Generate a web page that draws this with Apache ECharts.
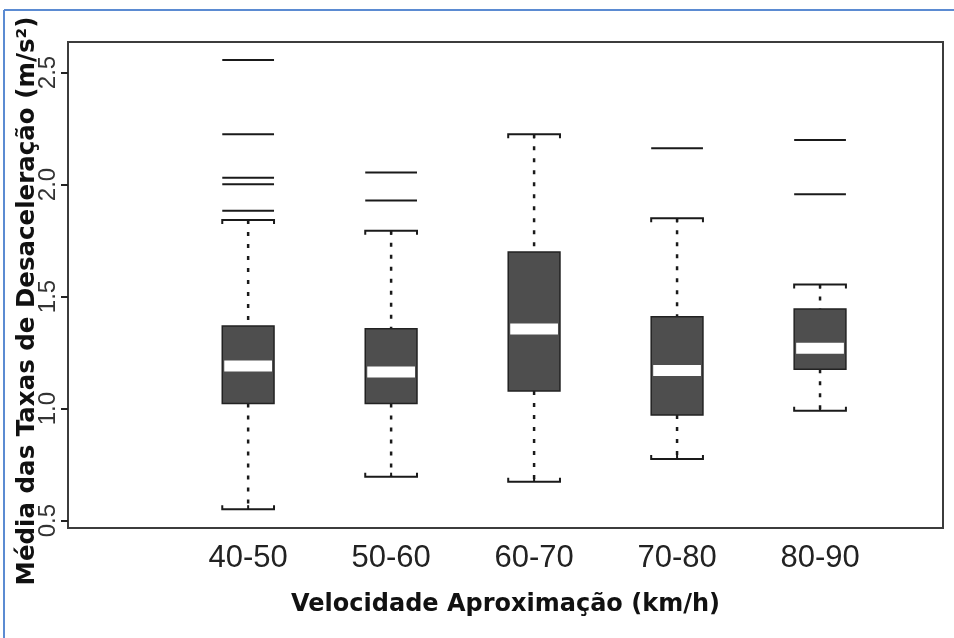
<!DOCTYPE html>
<html>
<head>
<meta charset="utf-8">
<script src="https://cdn.jsdelivr.net/npm/echarts@6/dist/echarts.min.js"></script>
<style>
  html, body { margin: 0; padding: 0; background: #fff; }
  #chart { width: 954px; height: 638px; }
</style>
</head>
<body>
<div id="chart"></div>
<script>
// Approach-speed classes and the five-number summary of each class
const categories = ['40-50', '50-60', '60-70', '70-80', '80-90'];
const lowerWhisker = [0.551, 0.696, 0.673, 0.775, 0.990];
const q1 = [1.023, 1.023, 1.078, 0.971, 1.176];
const median = [1.190, 1.163, 1.355, 1.170, 1.269];
const q3 = [1.368, 1.356, 1.699, 1.410, 1.444];
const upperWhisker = [1.842, 1.794, 2.224, 1.849, 1.554];
// Points beyond the whiskers, per class
const outliers = [
  [2.556, 2.224, 2.030, 2.001, 1.883],
  [2.054, 1.929],
  [],
  [2.162],
  [2.199, 1.956]
];
const yTicks = [0.5, 1.0, 1.5, 2.0, 2.5];
const xTicks = [1, 2, 3, 4, 5];

const FONT = "'Liberation Sans', Arial, Helvetica, sans-serif";
const TITLE_FONT = "'DejaVu Sans', 'Liberation Sans', Arial, sans-serif";
const BOX_HALF = 0.181;   // half box width, in x-axis units
const INK = '#1a1a1a';

const boxData = categories.map((c, i) =>
  [i + 1, lowerWhisker[i], q1[i], median[i], q3[i], upperWhisker[i]]);
const outlierData = [];
outliers.forEach((list, i) => list.forEach(v => outlierData.push([i + 1, v])));

function renderBox(params, api) {
  const x = api.value(0);
  const left = api.coord([x - BOX_HALF, 0])[0];
  const right = api.coord([x + BOX_HALF, 0])[0];
  const xc = api.coord([x, 0])[0];
  const yLo = api.coord([x, api.value(1)])[1];
  const yQ1 = api.coord([x, api.value(2)])[1];
  const yMed = api.coord([x, api.value(3)])[1];
  const yQ3 = api.coord([x, api.value(4)])[1];
  const yHi = api.coord([x, api.value(5)])[1];
  const whisker = { stroke: INK, lineWidth: 2.5, lineDash: [4, 8], fill: null };
  const cap = { stroke: INK, lineWidth: 2, fill: null };
  return {
    type: 'group',
    children: [
      { type: 'line', shape: { x1: xc, y1: yHi, x2: xc, y2: yQ3 }, style: whisker },
      { type: 'line', shape: { x1: xc, y1: yQ1, x2: xc, y2: yLo }, style: whisker },
      { type: 'polyline', shape: { points: [[left, yHi + 4], [left, yHi], [right, yHi], [right, yHi + 4]] }, style: cap },
      { type: 'line', shape: { x1: xc, y1: yHi, x2: xc, y2: yHi + 4 }, style: cap },
      { type: 'polyline', shape: { points: [[left, yLo - 4], [left, yLo], [right, yLo], [right, yLo - 4]] }, style: cap },
      { type: 'line', shape: { x1: xc, y1: yLo, x2: xc, y2: yLo - 4 }, style: cap },
      { type: 'rect', shape: { x: left, y: yQ3, width: right - left, height: yQ1 - yQ3 },
        style: { fill: '#4e4e4e', stroke: '#222', lineWidth: 1.5 } },
      { type: 'rect', shape: { x: left + 2, y: yMed - 5.5, width: right - left - 4, height: 11 },
        style: { fill: '#ffffff' } }
    ]
  };
}

function renderOutlier(params, api) {
  const x = api.value(0);
  const y = api.coord([x, api.value(1)])[1];
  const left = api.coord([x - BOX_HALF, 0])[0];
  const right = api.coord([x + BOX_HALF, 0])[0];
  return {
    type: 'line',
    shape: { x1: left, y1: y, x2: right, y2: y },
    style: { stroke: INK, lineWidth: 2 }
  };
}

const chart = echarts.init(document.getElementById('chart'), null, { renderer: 'canvas' });
chart.setOption({
  backgroundColor: '#ffffff',
  animation: false,
  grid: {
    left: 68, top: 42, width: 875, height: 486,
    outerBoundsMode: 'none', containLabel: false,
    show: true, borderColor: '#3c3c3c', borderWidth: 2, backgroundColor: 'transparent'
  },
  xAxis: {
    type: 'value',
    min: -0.26, max: 5.86,
    axisLine: { show: false, onZero: false },
    axisTick: { show: false },
    splitLine: { show: false },
    axisLabel: {
      customValues: xTicks,
      formatter: v => categories[Math.round(v) - 1] || '',
      fontFamily: FONT, fontSize: 31, color: '#222', margin: 15
    },
    name: 'Velocidade Aproximação (km/h)',
    nameLocation: 'middle',
    nameGap: 65,
    nameMoveOverlap: false,
    nameTextStyle: { fontFamily: TITLE_FONT, fontSize: 24, fontWeight: 'bold', color: '#111' }
  },
  yAxis: {
    type: 'value',
    min: 0.467, max: 2.636,
    axisLine: { show: true, onZero: false, lineStyle: { color: '#3c3c3c', width: 2 } },
    splitLine: { show: false },
    axisTick: { show: true, customValues: yTicks, length: 7, lineStyle: { color: '#222', width: 2 } },
    axisLabel: {
      customValues: yTicks,
      formatter: v => v.toFixed(1),
      rotate: 90,
      fontFamily: FONT, fontSize: 24, color: '#333', margin: 8
    },
    name: 'Média das Taxas de Desaceleração (m/s²)',
    nameLocation: 'middle',
    nameRotate: 90,
    nameGap: 28,
    nameMoveOverlap: false,
    nameTextStyle: { fontFamily: TITLE_FONT, fontSize: 24.5, fontWeight: 'bold', color: '#111', padding: [0, 32, 0, 0] }
  },
  series: [
    { type: 'custom', name: 'box', renderItem: renderBox, data: boxData,
      encode: { x: 0, y: [1, 2, 3, 4, 5] }, clip: false },
    { type: 'custom', name: 'outlier', renderItem: renderOutlier, data: outlierData,
      encode: { x: 0, y: 1 }, clip: false }
  ],
  graphic: [
    { type: 'line', shape: { x1: 4, y1: 10, x2: 954, y2: 10 }, style: { stroke: '#5b8bd2', lineWidth: 2 } },
    { type: 'line', shape: { x1: 4, y1: 10, x2: 4, y2: 638 }, style: { stroke: '#5b8bd2', lineWidth: 2 } }
  ]
});
</script>
</body>
</html>
